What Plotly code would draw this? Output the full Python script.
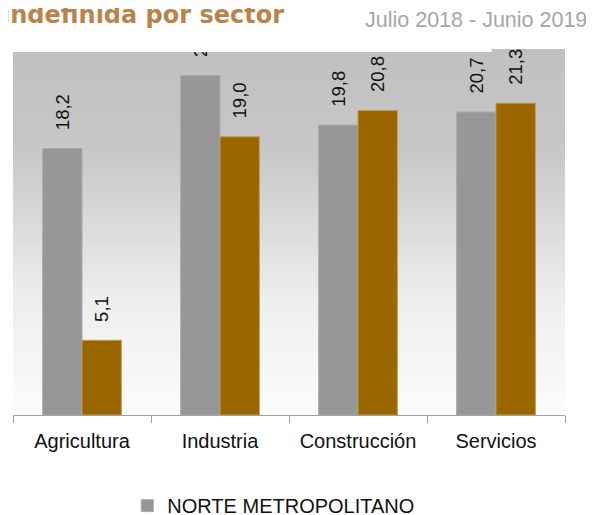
import plotly.graph_objects as go

# ---- data ----
categories = ["Agricultura", "Industria", "Construcción", "Servicios"]
norte_metropolitano = [18.2, 23.2, 19.8, 20.7]
segunda_serie = [5.1, 19.0, 20.8, 21.3]
series_names = ["NORTE METROPOLITANO", "TOTAL"]
title_text = "indefinida por sector"
period_text = "Julio 2018 - Junio 2019"

# ---- layout geometry (figure sits 8px in from the page corner) ----
OFF = 8
W, H = 594 - OFF, 515 - OFF
L, R, T, B = 4.5, 28.5, 41, 99.7
plot_w = W - L - R
plot_h = H - T - B


def py(p):
    """screen pixel y -> paper y"""
    return (H - B - (p - OFF)) / plot_h


def px(p):
    """screen pixel x -> paper x"""
    return ((p - OFF) - L) / plot_w


FONT = "Liberation Sans, Arial, sans-serif"
GRAY = "#979797"
BROWN = "#996600"
label_tpl = "\u00a0\u00a0\u00a0%{y:.1f}"

fig = go.Figure()
fig.add_bar(
    x=categories, y=norte_metropolitano, name=series_names[0],
    marker=dict(color=GRAY, line=dict(color="#aaaaaa", width=1)),
    texttemplate=label_tpl, textposition="outside", textangle=-90,
    cliponaxis=True, constraintext="none",
    textfont=dict(size=18.5, color="#111111", family=FONT),
)
fig.add_bar(
    x=categories, y=segunda_serie, name=series_names[1], showlegend=False,
    marker=dict(color=BROWN, line=dict(color="#c09a50", width=1)),
    texttemplate=label_tpl, textposition="outside", textangle=-90,
    cliponaxis=True, constraintext="none",
    textfont=dict(size=18.5, color="#111111", family=FONT),
)

# ---- gradient background (styling), in screen pixels ----
stops = [(49, 192), (150, 199), (300, 238), (416, 252)]


def shade(p):
    for (p0, v0), (p1, v1) in zip(stops[:-1], stops[1:]):
        if p0 <= p <= p1:
            return v0 + (v1 - v0) * (p - p0) / (p1 - p0)
    return stops[-1][1]


shapes = []
step = 3
p = 49
while p < 416:
    v = int(round(shade(p + step / 2)))
    shapes.append(dict(
        type="rect", xref="paper", yref="paper", layer="below",
        x0=0, x1=1, y0=max(py(min(p + step + 1, 416)), 0), y1=min(py(p), 1),
        fillcolor=f"rgb({v},{v},{v})", line=dict(width=0),
    ))
    p += step
# white strip above the left part of the plot (clips the top labels)
shapes.append(dict(
    type="rect", xref="paper", yref="paper", layer="above",
    x0=-0.01, x1=px(492), y0=py(52), y1=1.01,
    fillcolor="white", line=dict(width=0),
))

fig.update_layout(
    width=W, height=H,
    margin=dict(l=L, r=R, t=T, b=B, autoexpand=False),
    paper_bgcolor="white", plot_bgcolor="white",
    barmode="group", bargap=0.43, bargroupgap=0,
    separators=",.",
    font=dict(family=FONT, color="#111111"),
    shapes=shapes,
    xaxis=dict(
        showline=True, linecolor="#a0a0a0", linewidth=1,
        ticks="outside", ticklen=7, tickcolor="#a0a0a0", tickson="boundaries",
        ticklabelstandoff=8,
        showgrid=False, tickfont=dict(size=20, color="#111111", family=FONT),
    ),
    yaxis=dict(range=[0, 25], visible=False, showgrid=False, zeroline=False),
    legend=dict(
        orientation="h", x=px(127), xanchor="left", y=py(506), yanchor="middle",
        font=dict(size=20, color="#111111", family=FONT),
        bgcolor="rgba(0,0,0,0)",
    ),
    annotations=[
        dict(text=title_text, xref="paper", yref="paper", x=px(-1), y=py(14.5),
             xanchor="left", yanchor="middle", showarrow=False,
             font=dict(family="DejaVu Sans", size=24, color="#b9834a", weight="bold")),
        dict(text=period_text, xref="paper", yref="paper", x=px(589.5), y=py(19.8),
             xanchor="right", yanchor="middle", showarrow=False,
             font=dict(family=FONT, size=21.5, color="#a6a6a6")),
    ],
)

fig.write_html("out.html")
